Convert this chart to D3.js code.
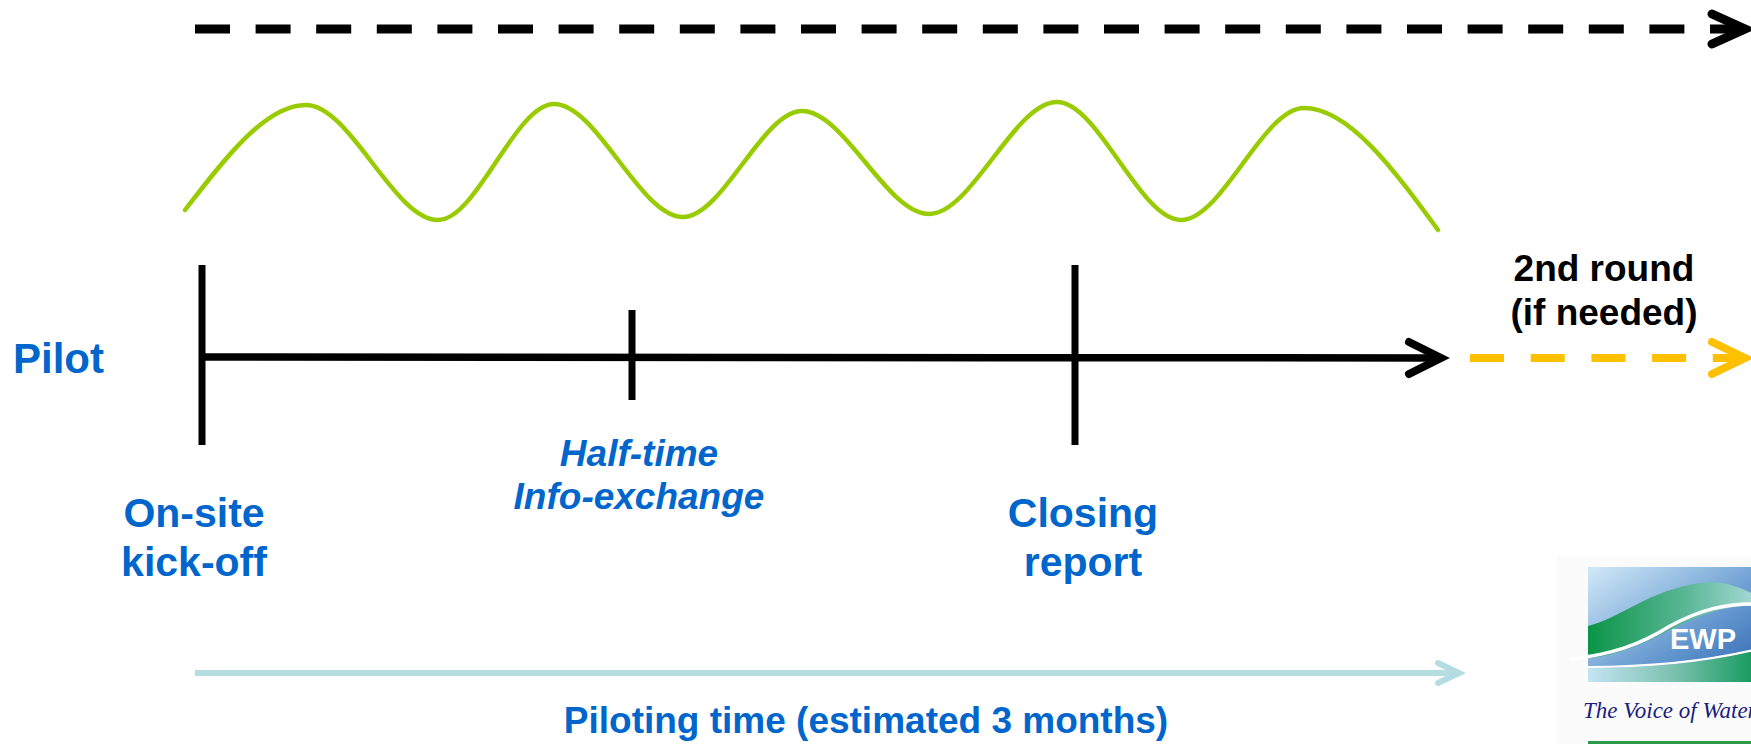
<!DOCTYPE html>
<html>
<head>
<meta charset="utf-8">
<script src="https://cdn.jsdelivr.net/npm/d3@7"></script>
<style>
  html, body { margin: 0; padding: 0; background: #ffffff; }
  svg { display: block; }
</style>
</head>
<body>
<div id="chart"></div>
<script>
// ---- Data (units = reference picture coordinates) ----
const waveX = [185, 306, 438, 554, 683, 802, 929, 1057, 1181, 1304, 1438];
const waveY = [210, 105, 220, 104, 217, 111, 214, 102, 220, 108, 230];

const milestoneNames = [["On-site", "kick-off"], ["Half-time", "Info-exchange"], ["Closing", "report"]];
const milestoneX = [202, 632, 1075];
const milestoneTickTop = [265, 310, 265];
const milestoneTickBottom = [445, 400, 445];
const milestoneLabelX = [194, 639, 1083];
const milestoneLabelY = [[527, 576], [466, 509], [527, 576]];
const milestoneItalic = [false, true, false];

const timelineStartX = 202, timelineEndX = 1441, timelineY = 357;
const topArrowStart = 195, topArrowEnd = 1745, topArrowY = 29;
const roundArrowStart = 1470, roundArrowEnd = 1745, roundArrowY = 358;
const durationStart = 195, durationEnd = 1459, durationY = 673;

const rowLabel = "Pilot";
const secondRoundLines = ["2nd round", "(if needed)"];
const secondRoundY = [281, 325];
const durationLabel = "Piloting time (estimated 3 months)";

const W = 1751, H = 744;
const x = d3.scaleLinear().domain([0, 1751]).range([0, W]);
const y = d3.scaleLinear().domain([0, 744]).range([0, H]);

const BLUE = "#0066CC";
const FONT = "'Liberation Sans', Arial, Helvetica, sans-serif";

const svg = d3.select("#chart").append("svg")
  .attr("width", W).attr("height", H)
  .attr("viewBox", `0 0 ${W} ${H}`);

// chevron helper
function chevron(tipX, tipY, len, half, color, sw) {
  svg.append("path")
    .attr("d", d3.line()([[x(tipX - len), y(tipY - half)], [x(tipX), y(tipY)], [x(tipX - len), y(tipY + half)]]))
    .attr("fill", "none").attr("stroke", color).attr("stroke-width", sw)
    .attr("stroke-linecap", "round").attr("stroke-linejoin", "miter");
}

// ---- Top dashed black arrow ----
svg.append("line")
  .attr("x1", x(topArrowStart)).attr("x2", x(topArrowEnd - 8))
  .attr("y1", y(topArrowY)).attr("y2", y(topArrowY))
  .attr("stroke", "#000").attr("stroke-width", 9)
  .attr("stroke-dasharray", "35 25.6");
chevron(topArrowEnd, topArrowY, 33, 15, "#000", 9);

// ---- Green wave ----
svg.append("path")
  .datum(waveX.map((d, i) => [d, waveY[i]]))
  .attr("d", d3.line().x(d => x(d[0])).y(d => y(d[1])).curve(d3.curveMonotoneX))
  .attr("fill", "none").attr("stroke", "#99CC00").attr("stroke-width", 4.5)
  .attr("stroke-linecap", "round");

// ---- Main timeline ----
svg.append("line")
  .attr("x1", x(timelineStartX)).attr("x2", x(timelineEndX - 4))
  .attr("y1", y(timelineY)).attr("y2", y(timelineY + 1))
  .attr("stroke", "#000").attr("stroke-width", 7.5);
chevron(timelineEndX, timelineY + 1, 32, 16, "#000", 8);

// milestone ticks
svg.selectAll("line.tick").data(milestoneX).enter().append("line")
  .attr("class", "tick")
  .attr("x1", d => x(d)).attr("x2", d => x(d))
  .attr("y1", (d, i) => y(milestoneTickTop[i])).attr("y2", (d, i) => y(milestoneTickBottom[i]))
  .attr("stroke", "#000").attr("stroke-width", 7);

// milestone labels
milestoneNames.forEach((lines, i) => {
  lines.forEach((t, j) => {
    svg.append("text")
      .attr("x", x(milestoneLabelX[i])).attr("y", y(milestoneLabelY[i][j]))
      .attr("text-anchor", "middle")
      .attr("font-family", FONT).attr("font-weight", "bold")
      .attr("font-style", milestoneItalic[i] ? "italic" : "normal")
      .attr("font-size", milestoneItalic[i] ? 37 : 41)
      .attr("fill", BLUE).text(t);
  });
});

// Pilot label
svg.append("text")
  .attr("x", x(13)).attr("y", y(373))
  .attr("font-family", FONT).attr("font-weight", "bold").attr("font-size", 42)
  .attr("fill", BLUE).text(rowLabel);

// ---- 2nd round ----
secondRoundLines.forEach((t, j) => {
  svg.append("text")
    .attr("x", x(1604)).attr("y", y(secondRoundY[j]))
    .attr("text-anchor", "middle")
    .attr("font-family", FONT).attr("font-weight", "bold").attr("font-size", 37)
    .attr("fill", "#000").text(t);
});
svg.append("line")
  .attr("x1", x(roundArrowStart)).attr("x2", x(roundArrowEnd - 8))
  .attr("y1", y(roundArrowY)).attr("y2", y(roundArrowY))
  .attr("stroke", "#FFC000").attr("stroke-width", 8)
  .attr("stroke-dasharray", "34 26.7");
chevron(roundArrowEnd, roundArrowY, 33, 16, "#FFC000", 8);

// ---- Duration arrow ----
svg.append("line")
  .attr("x1", x(durationStart)).attr("x2", x(durationEnd - 2))
  .attr("y1", y(durationY)).attr("y2", y(durationY))
  .attr("stroke", "#B4DDE2").attr("stroke-width", 6);
chevron(durationEnd, durationY, 21, 10, "#B4DDE2", 6);

svg.append("text")
  .attr("x", x(866)).attr("y", y(733))
  .attr("text-anchor", "middle")
  .attr("font-family", FONT).attr("font-weight", "bold").attr("font-size", 37)
  .attr("fill", BLUE).text(durationLabel);

// ---- EWP logo (approximation) ----
const defs = svg.append("defs");
const g1 = defs.append("linearGradient").attr("id", "sky").attr("x1", "0").attr("y1", "0").attr("x2", "1").attr("y2", "1");
g1.append("stop").attr("offset", "0").attr("stop-color", "#d2e9f8");
g1.append("stop").attr("offset", "0.55").attr("stop-color", "#6d9fd3");
g1.append("stop").attr("offset", "1").attr("stop-color", "#2b64b0");
const g2 = defs.append("linearGradient").attr("id", "greenband").attr("x1", "0").attr("y1", "0").attr("x2", "1").attr("y2", "0");
g2.append("stop").attr("offset", "0").attr("stop-color", "#0a9447");
g2.append("stop").attr("offset", "0.6").attr("stop-color", "#5fb89a");
g2.append("stop").attr("offset", "1").attr("stop-color", "#a9dbd8");
const g3 = defs.append("linearGradient").attr("id", "bottomband").attr("x1", "0").attr("y1", "0").attr("x2", "1").attr("y2", "0");
g3.append("stop").attr("offset", "0").attr("stop-color", "#c4e4f4");
g3.append("stop").attr("offset", "0.5").attr("stop-color", "#7cc2b0");
g3.append("stop").attr("offset", "1").attr("stop-color", "#12985a");

const logo = svg.append("g");
logo.append("rect").attr("x", x(1557)).attr("y", y(556)).attr("width", 200).attr("height", 190).attr("fill", "#fbfbfb");
logo.append("rect").attr("x", x(1588)).attr("y", y(567)).attr("width", 170).attr("height", 115).attr("fill", "url(#sky)");
// green ribbon
logo.append("path")
  .attr("d", "M1588,626 C1620,618 1650,590 1700,583 C1725,580 1740,588 1758,596 L1758,606 C1720,604 1690,620 1660,635 C1630,650 1605,657 1588,658 Z")
  .attr("fill", "url(#greenband)");
// white curve
logo.append("path")
  .attr("d", "M1570,659 C1610,655 1640,645 1670,626 C1700,610 1725,603 1758,604")
  .attr("fill", "none").attr("stroke", "#ffffff").attr("stroke-width", 3.5);
// bottom band
logo.append("path")
  .attr("d", "M1588,668 C1640,668 1700,664 1758,650 L1758,682 L1588,682 Z")
  .attr("fill", "url(#bottomband)");
logo.append("path")
  .attr("d", "M1588,667 C1640,667 1700,663 1758,649")
  .attr("fill", "none").attr("stroke", "#ffffff").attr("stroke-width", 2);
logo.append("text")
  .attr("x", x(1670)).attr("y", y(649))
  .attr("font-family", FONT).attr("font-weight", "bold").attr("font-size", 29)
  .attr("fill", "#ffffff").text("EWP");
logo.append("text")
  .attr("x", x(1583)).attr("y", y(718))
  .attr("font-family", "'Liberation Serif', serif").attr("font-style", "italic").attr("font-size", 23)
  .attr("fill", "#1b1b80").text("The Voice of Water");
logo.append("rect").attr("x", x(1588)).attr("y", y(741)).attr("width", 170).attr("height", 3).attr("fill", "#2a9a4a");
</script>
</body>
</html>
